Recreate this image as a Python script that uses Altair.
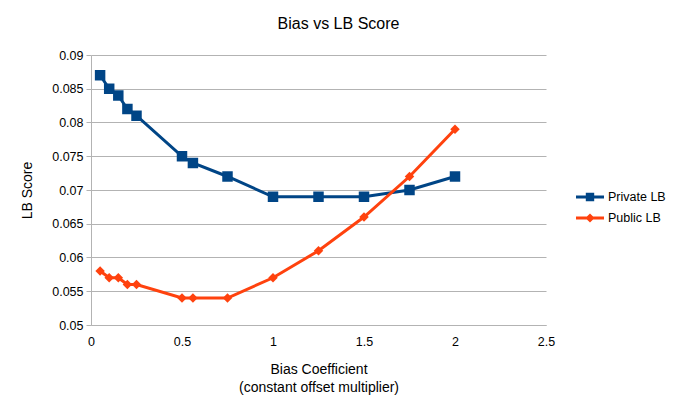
import altair as alt
import pandas as pd

bias = [0.05, 0.1, 0.15, 0.2, 0.25, 0.5, 0.56, 0.75, 1.0, 1.25, 1.5, 1.75, 2.0]
private_lb = [0.087, 0.085, 0.084, 0.082, 0.081, 0.075, 0.074, 0.072, 0.069, 0.069, 0.069, 0.070, 0.072]
public_lb = [0.058, 0.057, 0.057, 0.056, 0.056, 0.054, 0.054, 0.054, 0.057, 0.061, 0.066, 0.072, 0.079]
series_names = ["Private LB", "Public LB"]
series_colors = ["#004586", "#ff420e"]

rows = []
for b, v in zip(bias, private_lb):
    rows.append({"bias": b, "score": v, "series": series_names[0]})
for b, v in zip(bias, public_lb):
    rows.append({"bias": b, "score": v, "series": series_names[1]})
df = pd.DataFrame(rows)

FONT = "Liberation Sans"


def cscale():
    return alt.Scale(domain=series_names, range=series_colors)


x = alt.X("bias:Q", scale=alt.Scale(domain=[0, 2.5], nice=False),
          axis=alt.Axis(values=[0, 0.5, 1, 1.5, 2, 2.5], format="~g", labelFlush=False,
                        title=["Bias Coefficient", "(constant offset multiplier)"],
                        titleFontWeight="normal", titleLineHeight=18,
                        grid=False, ticks=False, labelPadding=10, titlePadding=15))
y = alt.Y("score:Q", scale=alt.Scale(domain=[0.05, 0.09], nice=False, zero=False),
          axis=alt.Axis(values=[0.05 + 0.005 * i for i in range(9)], format=".3~f",
                        labelFlush=False,
                        title="LB Score", titleFontWeight="normal", grid=True,
                        tickSize=5, labelPadding=3, titlePadding=17))

base = alt.Chart(df)

lines = base.mark_line(strokeWidth=3).encode(
    x=x, y=y, color=alt.Color("series:N", scale=cscale(), legend=None),
    detail="series:N")

points = base.mark_point(filled=True, opacity=1).encode(
    x=x, y=y,
    color=alt.Color("series:N", scale=cscale(), legend=None),
    shape=alt.Shape("series:N", scale=alt.Scale(domain=series_names, range=["square", "diamond"]), legend=None),
    size=alt.Size("series:N", scale=alt.Scale(domain=series_names, range=[110, 90]), legend=None))

legend_paths = [
    "M-1,-0.1H1V0.1H-1Z M-0.3,-0.3H0.3V0.3H-0.3Z",
    "M-1,-0.1H1V0.1H-1Z M0,-0.33L0.33,0L0,0.33L-0.33,0Z",
]
leg = alt.Legend(title=None, orient="none", legendX=485, legendY=128,
                 symbolSize=784, labelFont=FONT, labelFontSize=12.5,
                 labelColor="#000000", rowPadding=-12, labelOffset=4,
                 symbolStrokeWidth=0)
legend_layer = base.mark_point(filled=True, opacity=1).encode(
    x=x, y=y,
    color=alt.Color("series:N", scale=cscale(), legend=leg),
    shape=alt.Shape("series:N", scale=alt.Scale(domain=series_names, range=legend_paths),
                    legend=leg),
).transform_filter("false")

chart = alt.layer(lines, points, legend_layer).resolve_scale(
    shape="independent", size="independent", color="independent"
).properties(
    width=455, height=270,
    background="white",
    title=alt.TitleParams("Bias vs LB Score", font=FONT, fontSize=16, fontWeight="normal",
                          color="#000000", anchor="middle", offset=17, dx=20),
    autosize=alt.AutoSizeParams(type="none"),
    padding={"left": 83, "top": 47, "right": 123, "bottom": 75},
).configure_view(stroke=None).configure_axis(
    labelFont=FONT, titleFont=FONT, labelFontSize=12.5, titleFontSize=14,
    labelColor="#000000", titleColor="#000000", titleFontWeight="normal",
    domainColor="#b3b3b3", gridColor="#b3b3b3", tickColor="#b3b3b3",
    domainWidth=1, gridWidth=1,
)

chart.save("out.html", embed_options={"renderer": "svg", "actions": False})
